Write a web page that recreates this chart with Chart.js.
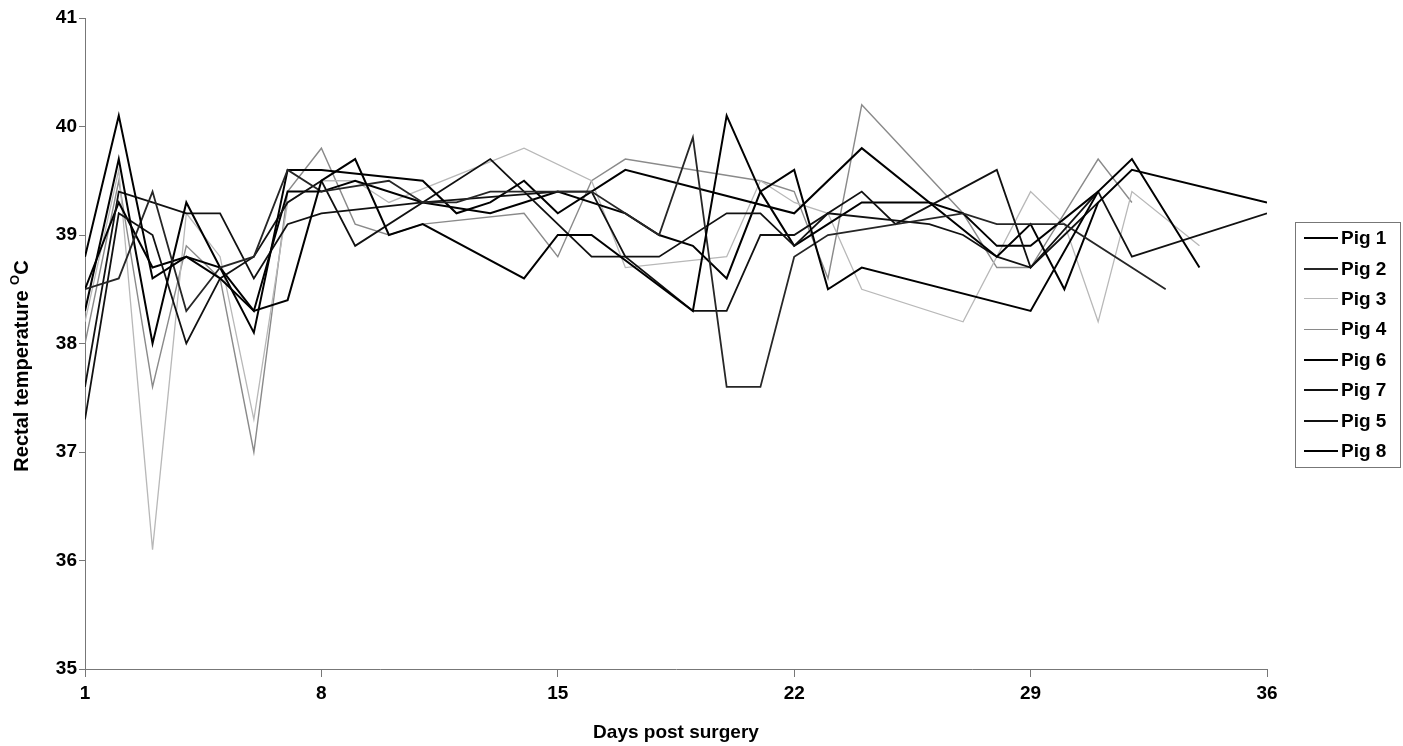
<!DOCTYPE html>
<html lang="en">
<head>
<meta charset="UTF-8">
<title>Rectal temperature after surgery</title>
<script src="https://cdn.jsdelivr.net/npm/chart.js"></script>
<style>
  body { margin: 0; background: #fff; }
  #wrap { position: relative; width: 1403px; height: 746px; }
  #legend {
    position: absolute; left: 1295px; top: 222px; width: 106px; height: 246px;
    border: 1px solid #777; box-sizing: border-box;
    font: bold 19px "Liberation Sans", Arial, sans-serif; color: #000;
  }
  .item { height: 30.4px; display: flex; align-items: center; }
  .swatch { width: 34px; margin-left: 8px; margin-right: 3px; border-top: 2px solid #000; }
</style>
</head>
<body>
<div id="wrap">
  <canvas id="chart" width="1403" height="746"></canvas>
  <div id="legend"></div>
</div>
<script>
// axis ticks and titles
var xTicks = [1, 8, 15, 22, 29, 36];
var yTicks = [35, 36, 37, 38, 39, 40, 41];
var xTitle = 'Days post surgery';
var yTitle = 'Rectal temperature ';

// readings per pig (day, temperature)
var pig1Days  = [1, 2, 3, 4, 5, 6, 7, 8, 9, 10, 11, 14, 15, 16, 19, 20, 21, 22, 23, 24, 29, 31, 32, 34];
var pig1Temps = [38.8, 40.1, 38.6, 38.8, 38.6, 38.3, 38.4, 39.5, 39.7, 39.0, 39.1, 38.6, 39.0, 39.0, 38.3, 40.1, 39.4, 39.6, 38.5, 38.7, 38.3, 39.4, 39.7, 38.7];

var pig2Days  = [1, 2, 3, 4, 5, 6, 7, 8, 10, 11, 12, 13, 15, 16, 18, 19, 20, 21, 22, 23, 27, 28, 29, 30, 33];
var pig2Temps = [38.5, 38.6, 39.4, 38.3, 38.7, 38.8, 39.6, 39.4, 39.5, 39.3, 39.3, 39.4, 39.4, 39.4, 39.0, 39.9, 37.6, 37.6, 38.8, 39.0, 39.2, 39.1, 39.1, 39.1, 38.5];

var pig3Days  = [1, 2, 3, 4, 5, 6, 7, 8, 9, 10, 14, 16, 17, 20, 21, 22, 23, 24, 27, 29, 30, 31, 32, 34];
var pig3Temps = [38.2, 39.6, 36.1, 39.2, 38.8, 37.3, 39.3, 39.5, 39.5, 39.3, 39.8, 39.5, 38.7, 38.8, 39.5, 39.3, 39.2, 38.5, 38.2, 39.4, 39.1, 38.2, 39.4, 38.9];

var pig4Days  = [1, 2, 3, 4, 5, 6, 7, 8, 9, 10, 11, 14, 15, 16, 17, 21, 22, 23, 24, 27, 28, 29, 31, 32];
var pig4Temps = [38.0, 39.5, 37.6, 38.9, 38.6, 37.0, 39.4, 39.8, 39.1, 39.0, 39.1, 39.2, 38.8, 39.5, 39.7, 39.5, 39.4, 38.6, 40.2, 39.2, 38.7, 38.7, 39.7, 39.3];

var pig6Days  = [1, 2, 3, 4, 6, 7, 8, 11, 12, 13, 14, 15, 17, 22, 24, 28, 29, 30, 31, 32, 36];
var pig6Temps = [38.3, 39.7, 38.0, 39.3, 38.1, 39.6, 39.6, 39.5, 39.2, 39.3, 39.5, 39.2, 39.6, 39.2, 39.8, 38.8, 39.1, 38.5, 39.3, 39.6, 39.3];

var pig7Days  = [1, 2, 3, 4, 5, 6, 7, 8, 11, 15, 16, 17, 19, 20, 21, 22, 23, 26, 27, 28, 29, 30, 31];
var pig7Temps = [37.6, 39.4, 39.3, 39.2, 39.2, 38.6, 39.1, 39.2, 39.3, 39.4, 39.4, 38.8, 38.3, 38.3, 39.0, 39.0, 39.2, 39.1, 39.0, 38.8, 38.7, 39.0, 39.3];

var pig5Days  = [1, 2, 3, 4, 5, 6, 7, 8, 9, 13, 16, 18, 20, 21, 22, 23, 24, 25, 28, 29, 31, 32, 36];
var pig5Temps = [37.3, 39.2, 39.0, 38.0, 38.6, 38.8, 39.3, 39.5, 38.9, 39.7, 38.8, 38.8, 39.2, 39.2, 38.9, 39.2, 39.4, 39.1, 39.6, 38.7, 39.4, 38.8, 39.2];

var pig8Days  = [1, 2, 3, 4, 5, 6, 7, 8, 9, 11, 13, 14, 15, 17, 18, 19, 20, 21, 22, 23, 24, 26, 27, 28, 29, 31];
var pig8Temps = [38.5, 39.3, 38.7, 38.8, 38.7, 38.3, 39.4, 39.4, 39.5, 39.3, 39.2, 39.3, 39.4, 39.2, 39.0, 38.9, 38.6, 39.4, 38.9, 39.1, 39.3, 39.3, 39.2, 38.9, 38.9, 39.4];

var pigNames  = ['Pig 1', 'Pig 2', 'Pig 3', 'Pig 4', 'Pig 6', 'Pig 7', 'Pig 5', 'Pig 8'];
var pigColors = ['#000000', '#262626', '#b8b8b8', '#8a8a8a', '#000000', '#111111', '#111111', '#000000'];
var pigWidths = [2, 1.8, 1.3, 1.4, 2, 1.8, 1.8, 2];
var allDays  = [pig1Days, pig2Days, pig3Days, pig4Days, pig6Days, pig7Days, pig5Days, pig8Days];
var allTemps = [pig1Temps, pig2Temps, pig3Temps, pig4Temps, pig6Temps, pig7Temps, pig5Temps, pig8Temps];

var FONT = '"Liberation Sans", Arial, sans-serif';

function toPoints(days, temps) {
    return days.map(function (d, i) { return { x: d, y: temps[i] }; });
}

var datasets = pigNames.map(function (name, i) {
    return {
        label: name,
        data: toPoints(allDays[i], allTemps[i]),
        borderColor: pigColors[i],
        borderWidth: pigWidths[i],
        pointRadius: 0,
        tension: 0,
        fill: false
    };
});
// grey series underneath the black ones
var greySeries = [2, 3];
datasets.forEach(function (ds, i) { ds.order = greySeries.indexOf(i) >= 0 ? 10 : 0; });

// axis titles, with the raised O in the y title
var axisTitles = {
    id: 'axisTitles',
    afterDraw: function (chart) {
        var ctx = chart.ctx;
        var area = chart.chartArea;
        ctx.save();
        ctx.fillStyle = '#000';
        ctx.font = 'bold 19px ' + FONT;
        ctx.textAlign = 'center';
        ctx.textBaseline = 'middle';
        ctx.fillText(xTitle, (area.left + area.right) / 2, 733);

        ctx.translate(22, 366);
        ctx.rotate(-Math.PI / 2);
        ctx.textAlign = 'left';
        ctx.font = 'bold 20px ' + FONT;
        var w1 = ctx.measureText(yTitle).width;
        var w3 = ctx.measureText('C').width;
        ctx.font = 'bold 13px ' + FONT;
        var w2 = ctx.measureText('O').width;
        var x0 = -(w1 + w2 + w3) / 2;
        ctx.fillText('O', x0 + w1, -7);
        ctx.font = 'bold 20px ' + FONT;
        ctx.fillText(yTitle, x0, 0);
        ctx.fillText('C', x0 + w1 + w2, 0);
        ctx.restore();
    }
};

var ctx = document.getElementById('chart').getContext('2d');
var chart = new Chart(ctx, {
    type: 'line',
    data: { datasets: datasets },
    options: {
        responsive: false,
        animation: false,
        layout: { padding: { top: 18, right: 136, left: 0, bottom: 0 } },
        plugins: {
            legend: { display: false },
            tooltip: { enabled: false }
        },
        scales: {
            x: {
                type: 'linear',
                min: 1,
                max: 36,
                afterBuildTicks: function (scale) {
                    scale.ticks = xTicks.map(function (v) { return { value: v }; });
                },
                afterFit: function (scale) { scale.height = 77; },
                grid: { drawOnChartArea: false, color: '#777', tickLength: 8 },
                border: { color: '#777' },
                ticks: { color: '#000', font: { family: FONT, size: 19, weight: 'bold' }, padding: 5, maxRotation: 0 }
            },
            y: {
                min: 35,
                max: 41,
                afterBuildTicks: function (scale) {
                    scale.ticks = yTicks.map(function (v) { return { value: v }; });
                },
                afterFit: function (scale) { scale.width = 85; },
                grid: { drawOnChartArea: false, color: '#777', tickLength: 6 },
                border: { color: '#777' },
                ticks: { color: '#000', font: { family: FONT, size: 19, weight: 'bold' }, padding: 2 }
            }
        }
    },
    plugins: [axisTitles]
});

// legend box on the right
var legend = document.getElementById('legend');
pigNames.forEach(function (name, i) {
    var item = document.createElement('div');
    item.className = 'item';
    var sw = document.createElement('span');
    sw.className = 'swatch';
    sw.style.borderTopColor = pigColors[i];
    sw.style.borderTopWidth = (i === 2 || i === 3) ? '1.5px' : '2px';
    var label = document.createElement('span');
    label.textContent = name;
    item.appendChild(sw);
    item.appendChild(label);
    legend.appendChild(item);
});
</script>
</body>
</html>
